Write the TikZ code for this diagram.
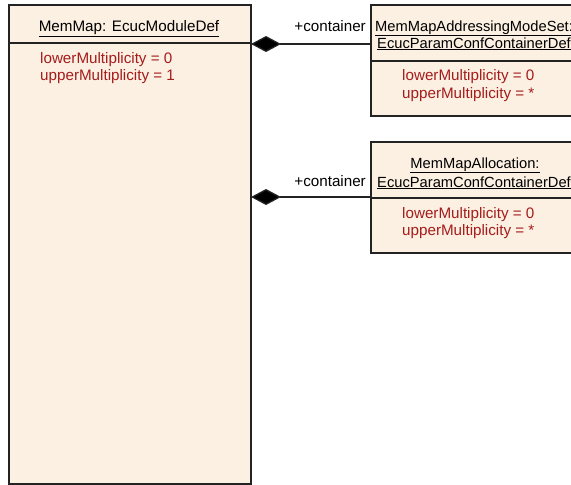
\documentclass[tikz,border=0pt]{standalone}
\usepackage{fontspec}
\setmainfont{Liberation Sans}
\usetikzlibrary{arrows.meta}
\definecolor{boxfill}{RGB}{251,240,226}
\definecolor{attr}{RGB}{165,28,28}
\definecolor{edge}{RGB}{35,35,35}
\begin{document}
\begin{tikzpicture}[x=1pt,y=-1pt,
  cls/.style={draw=edge,line width=1.3pt,fill=boxfill,inner sep=0pt,outer sep=0pt,anchor=north west},
  sep/.style={draw=edge,line width=1.3pt},
  ttl/.style={font=\fontsize{15.2}{17}\selectfont,inner sep=0pt,anchor=base},
  ctl/.style={font=\fontsize{14.7}{17}\selectfont,inner sep=0pt,anchor=base west},
  att/.style={font=\fontsize{15.2}{17}\selectfont,text=attr,inner sep=0pt,anchor=base west},
  lbl/.style={font=\fontsize{15.2}{17}\selectfont,inner sep=0pt,anchor=base east},
  comp/.style={draw=edge,line width=1.3pt,{Diamond[length=30pt,width=16pt,fill=black]}-}]
\useasboundingbox (0,0) rectangle (571,485);
\clip (0,0) rectangle (571,485);
% left class
\node[cls, minimum width=242pt, minimum height=479pt] (mm) at (9,5) {};
\draw[sep] (mm.west |- 0,43) -- (mm.east |- 0,43);
\node[ttl] (mmt) at (129,31.5) {\underline{MemMap: EcucModuleDef}};
\node[att] (mma1) at (40,63.5) {lowerMultiplicity = 0};
\node[att] (mma2) at (40,80.5) {upperMultiplicity = 1};
% container 1
\node[cls, minimum width=212pt, minimum height=111pt] (c1) at (371,5) {};
\draw[sep] (c1.west |- 0,61) -- (c1.east |- 0,61);
\node[ctl] (c1t1) at (375,31) {\underline{MemMapAddressingModeSet:}};
\node[ctl] (c1t2) at (377,48) {\underline{EcucParamConfContainerDef}};
\node[att] (c1a1) at (402,80.5) {lowerMultiplicity = 0};
\node[att] (c1a2) at (402,98.5) {upperMultiplicity = *};
% container 2
\node[cls, minimum width=212pt, minimum height=111pt] (c2) at (371,142) {};
\draw[sep] (c2.west |- 0,198) -- (c2.east |- 0,198);
\node[ctl, anchor=base] (c2t1) at (475,168) {\underline{MemMapAllocation:}};
\node[ctl] (c2t2) at (377,187) {\underline{EcucParamConfContainerDef}};
\node[att] (c2a1) at (402,218) {lowerMultiplicity = 0};
\node[att] (c2a2) at (402,235) {upperMultiplicity = *};
% connectors
\draw[comp] (mm.east |- 0,44) -- (c1.west |- 0,44);
\draw[comp] (mm.east |- 0,197) -- (c2.west |- 0,197);
\node[lbl] (l1) at (366,31) {+container};
\node[lbl] (l2) at (366,186) {+container};
\end{tikzpicture}
\end{document}
